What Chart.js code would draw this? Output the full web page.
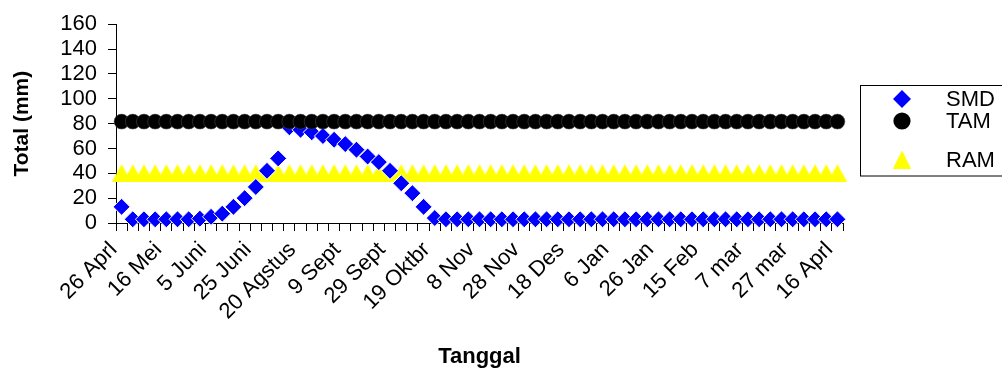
<!DOCTYPE html>
<html>
<head>
<meta charset="utf-8">
<script src="https://cdn.jsdelivr.net/npm/chart.js@4/dist/chart.umd.min.js"></script>
<style>
  html, body { margin: 0; padding: 0; background: #fff; }
  #wrap { width: 1002px; height: 379px; }
</style>
</head>
<body>
<div id="wrap"><canvas id="c" width="1002" height="379"></canvas></div>
<script>
// Dates every 5 days; only every 4th one is labelled on the axis
const tanggal = [
  '26 Aprl', '1 Mei', '6 Mei', '11 Mei', '16 Mei', '21 Mei', '26 Mei', '31 Mei',
  '5 Juni', '10 Juni', '15 Juni', '20 Juni', '25 Juni', '5 Agstus', '10 Agstus', '15 Agstus',
  '20 Agstus', '25 Agstus', '30 Agstus', '4 Sept', '9 Sept', '14 Sept', '19 Sept', '24 Sept',
  '29 Sept', '4 Okt', '9 Okt', '14 Okt', '19 Oktbr', '24 Okt', '29 Okt', '3 Nov',
  '8 Nov', '13 Nov', '18 Nov', '23 Nov', '28 Nov', '3 Des', '8 Des', '13 Des',
  '18 Des', '23 Des', '28 Des', '2 Jan', '6 Jan', '11 Jan', '16 Jan', '21 Jan',
  '26 Jan', '31 Jan', '5 Feb', '10 Feb', '15 Feb', '20 Feb', '25 Feb', '2 mar',
  '7 mar', '12 mar', '17 mar', '22 mar', '27 mar', '1 Aprl', '6 Aprl', '11 Aprl',
  '16 Aprl'
];

// Soil moisture deficit (mm)
const smd = [
  13, 3, 3, 3, 3, 3, 3, 3.5,
  5, 7.5, 13, 20, 29, 42, 52, 77,
  75, 73, 70, 67, 63.5, 59, 53.5, 49,
  42, 32, 24, 13, 4, 3, 3, 3,
  3, 3, 3, 3, 3, 3, 3, 3,
  3, 3, 3, 3, 3, 3, 3, 3,
  3, 3, 3, 3, 3, 3, 3, 3,
  3, 3, 3, 3, 3, 3, 3, 3,
  3
];

// Total available moisture (mm)
const tam = [
  81.6, 81.6, 81.6, 81.6, 81.6, 81.6, 81.6, 81.6,
  81.6, 81.6, 81.6, 81.6, 81.6, 81.6, 81.6, 81.6,
  81.6, 81.6, 81.6, 81.6, 81.6, 81.6, 81.6, 81.6,
  81.6, 81.6, 81.6, 81.6, 81.6, 81.6, 81.6, 81.6,
  81.6, 81.6, 81.6, 81.6, 81.6, 81.6, 81.6, 81.6,
  81.6, 81.6, 81.6, 81.6, 81.6, 81.6, 81.6, 81.6,
  81.6, 81.6, 81.6, 81.6, 81.6, 81.6, 81.6, 81.6,
  81.6, 81.6, 81.6, 81.6, 81.6, 81.6, 81.6, 81.6,
  81.6
];

// Readily available moisture (mm)
const ram = [
  40, 40, 40, 40, 40, 40, 40, 40,
  40, 40, 40, 40, 40, 40, 40, 40,
  40, 40, 40, 40, 40, 40, 40, 40,
  40, 40, 40, 40, 40, 40, 40, 40,
  40, 40, 40, 40, 40, 40, 40, 40,
  40, 40, 40, 40, 40, 40, 40, 40,
  40, 40, 40, 40, 40, 40, 40, 40,
  40, 40, 40, 40, 40, 40, 40, 40,
  40
];

const yTicks = { min: 0, max: 160, step: 20 };
const seriesNames = ['SMD', 'TAM', 'RAM'];

const FONT = "'Liberation Sans', Arial, sans-serif";

// Upright triangle marker, centred on its own box
function triangleMarker(w, h, color) {
  const cv = document.createElement('canvas');
  cv.width = w; cv.height = h;
  const c = cv.getContext('2d');
  c.fillStyle = color;
  c.beginPath();
  c.moveTo(w / 2, 0);
  c.lineTo(w, h);
  c.lineTo(0, h);
  c.closePath();
  c.fill();
  return cv;
}
const triPlot = triangleMarker(20, 18, '#ffff00');
const triLegend = triangleMarker(18, 18, '#ffff00');

// Boxed legend at the right of the plot
const boxedLegend = {
  id: 'boxedLegend',
  afterDraw(chart) {
    const ctx = chart.ctx;
    ctx.save();
    ctx.strokeStyle = '#000';
    ctx.lineWidth = 1;
    ctx.strokeRect(860.5, 85.5, 142, 90.5);

    const mx = 902, tx = 946;
    const rows = [99, 121, 159.5];

    // diamond
    ctx.fillStyle = '#0000ff';
    ctx.beginPath();
    ctx.moveTo(mx - 9, rows[0]);
    ctx.lineTo(mx, rows[0] - 9);
    ctx.lineTo(mx + 9, rows[0]);
    ctx.lineTo(mx, rows[0] + 9);
    ctx.closePath();
    ctx.fill();
    // circle
    ctx.fillStyle = '#000';
    ctx.beginPath();
    ctx.arc(mx, rows[1], 8.6, 0, Math.PI * 2);
    ctx.fill();
    // triangle
    ctx.drawImage(triLegend, mx - 9, rows[2] - 9);

    ctx.fillStyle = '#000';
    ctx.font = '22px ' + FONT;
    ctx.textAlign = 'left';
    ctx.textBaseline = 'middle';
    seriesNames.forEach((n, i) => ctx.fillText(n, tx, rows[i] + 1));
    ctx.restore();
  }
};

new Chart(document.getElementById('c'), {
  type: 'line',
  data: {
    labels: tanggal,
    datasets: [
      {
        label: seriesNames[0], data: smd, showLine: false, clip: false,
        pointStyle: 'rectRot', pointRadius: 8.5, pointHoverRadius: 8.5,
        backgroundColor: '#0000ff', borderColor: '#ffffff', pointBorderWidth: 1,
        order: 1
      },
      {
        label: seriesNames[1], data: tam, showLine: false, clip: false,
        pointStyle: 'circle', pointRadius: 7.5, pointHoverRadius: 7.5,
        backgroundColor: '#000000', borderColor: '#555555', pointBorderWidth: 0.5,
        order: 0
      },
      {
        label: seriesNames[2], data: ram, showLine: false, clip: false,
        pointStyle: triPlot, pointRadius: 9, pointHoverRadius: 9,
        backgroundColor: '#ffff00', borderColor: '#ffff00',
        order: 2
      }
    ]
  },
  options: {
    responsive: false,
    animation: false,
    devicePixelRatio: 1,
    layout: { padding: { left: 0, right: 159, top: 23, bottom: 0 } },
    plugins: { legend: { display: false }, tooltip: { enabled: false } },
    scales: {
      x: {
        type: 'category',
        offset: true,
        grid: { display: true, offset: true, drawOnChartArea: false, drawTicks: true, tickLength: 8, color: '#000' },
        border: { display: true, color: '#000', width: 1 },
        ticks: {
          autoSkip: false, minRotation: 45, maxRotation: 45,
          padding: 6, labelOffset: -8,
          color: '#000', font: { family: FONT, size: 22 },
          callback: (v, i) => (i % 4 === 0 ? tanggal[i] : '')
        },
        title: {
          display: true, text: 'Tanggal', color: '#000',
          font: { family: FONT, size: 22, weight: 'bold' },
          padding: { top: 0, bottom: 9 }
        },
        afterFit(scale) { scale.height = 156; }
      },
      y: {
        min: yTicks.min, max: yTicks.max,
        grid: { display: true, drawOnChartArea: false, drawTicks: true, tickLength: 8, color: '#000' },
        border: { display: true, color: '#000', width: 1 },
        ticks: {
          stepSize: yTicks.step, autoSkip: false, padding: 11, color: '#000',
          font: { family: FONT, size: 22 }
        },
        title: {
          display: true, text: 'Total (mm)', color: '#000',
          font: { family: FONT, size: 21, weight: 'bold' },
          padding: { top: 10, bottom: 0 }
        },
        afterFit(scale) { scale.width = 116; }
      }
    }
  },
  plugins: [boxedLegend]
});
</script>
</body>
</html>
